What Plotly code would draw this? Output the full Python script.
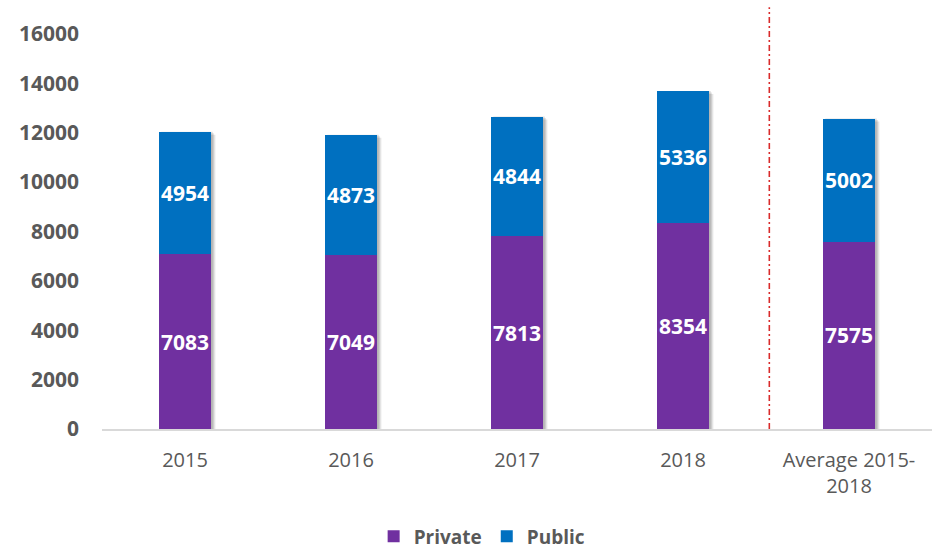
import plotly.graph_objects as go

categories = ["2015", "2016", "2017", "2018", "Average 2015-<br>2018"]
private_vals = [7083, 7049, 7813, 8354, 7575]
public_vals = [4954, 4873, 4844, 5336, 5002]
y_ticks = [0, 2000, 4000, 6000, 8000, 10000, 12000, 14000, 16000]
y_tick_labels = [str(v) for v in y_ticks]

PURPLE = "#7030A0"
BLUE = "#0070C0"
GREY = "#595959"
FONT = "Open Sans"
BAR_W = 0.31

fig = go.Figure()

for name, vals, col in [("Private", private_vals, PURPLE), ("Public", public_vals, BLUE)]:
    fig.add_trace(go.Bar(
        x=categories, y=vals, name=name,
        marker=dict(color=col, line=dict(width=0)),
        width=BAR_W,
        text=vals, textposition="inside", insidetextanchor="middle",
        textangle=0, constraintext="none",
        textfont=dict(color="white", size=21, family=FONT, weight="bold"),
        hoverinfo="skip",
    ))

# soft drop shadows behind bars
shapes = []
for i, (p, q) in enumerate(zip(private_vals, public_vals)):
    total = p + q
    for k, op in enumerate([0.10, 0.10, 0.12]):
        off = 0.012 + 0.008 * (2 - k)
        shapes.append(dict(
            type="rect", xref="x", yref="y", layer="below",
            x0=i - BAR_W / 2 + off, x1=i + BAR_W / 2 + off,
            y0=0, y1=total - 60 * (2 - k),
            fillcolor="black", opacity=op, line=dict(width=0),
        ))

# dashed separator
shapes.append(dict(
    type="line", xref="x", yref="paper",
    x0=3.52, x1=3.52, y0=0, y1=1.068,
    line=dict(color="#D92B2B", width=1.6, dash="6px,3px,2px,3px"),
))
fig.update_layout(shapes=shapes)

fig.update_layout(
    barmode="stack",
    width=939, height=552,
    margin=dict(l=102, r=7, t=34, b=123, autoexpand=False),
    paper_bgcolor="white", plot_bgcolor="white",
    font=dict(family=FONT, color=GREY),
    showlegend=True,
    legend=dict(
        orientation="h", traceorder="normal",
        x=0.458, xanchor="center", y=-0.272, yanchor="middle",
        font=dict(size=19, color=GREY, family=FONT, weight="bold"),
    ),
    xaxis=dict(
        showline=True, linecolor="#D9D9D9", linewidth=1.5,
        tickfont=dict(size=20, color=GREY, family=FONT),
        ticks="", showgrid=False, automargin=False,
        ticklabelstandoff=12,
    ),
    yaxis=dict(
        range=[0, 16000], tickvals=y_ticks, ticktext=y_tick_labels,
        tickfont=dict(size=21, color=GREY, family=FONT, weight="bold"),
        showgrid=False, zeroline=False, showline=False, ticks="",
        ticklabelstandoff=22, automargin=False,
    ),
)

fig.write_html(
    "out.html",
    config={"displayModeBar": False},
    post_script="document.body.style.margin='0';document.body.style.overflow='hidden';",
)
